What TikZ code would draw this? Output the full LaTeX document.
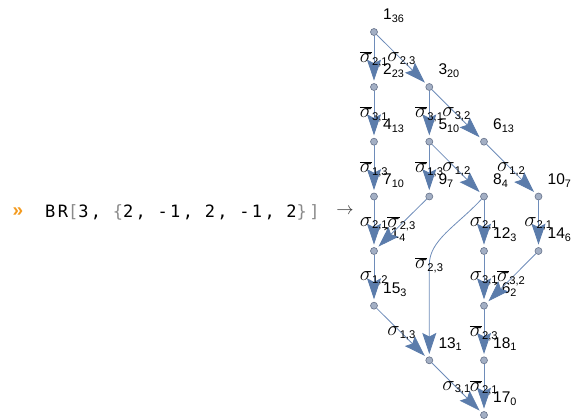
\documentclass[tikz,border=0pt]{standalone}
\usepackage{fontspec}
\setmainfont{Liberation Sans}
\newfontfamily\cmdfont[LetterSpace=14]{DejaVu Sans Mono}
\usetikzlibrary{arrows.meta}
\definecolor{cEdge}  {HTML}{6E8CB9}
\definecolor{cHead}  {HTML}{5B7CAB}
\definecolor{cVtx}   {HTML}{A3AFC4}
\definecolor{cVtxD}  {HTML}{66728A}
\definecolor{cPrompt}{HTML}{F39A1E}
\definecolor{cBrk}   {HTML}{8A8A8A}
\newcommand{\sg}[1]{{\fontsize{20}{20}\selectfont$\sigma$}\textsubscript{#1}}
\newcommand{\sgb}[1]{{\fontsize{20}{20}\selectfont$\overline{\sigma}$}\textsubscript{#1}}
\newcommand{\ws}{\hspace{11.7pt}}
\tikzset{
  vtx/.style ={circle,draw=cVtxD,fill=cVtx,line width=0.6pt,inner sep=0pt,
               minimum size=7pt},
  vlab/.style={anchor=base west,inner sep=0pt,font=\fontsize{15.5}{15.5}\selectfont},
  edg/.style ={draw=cEdge,line width=0.8pt,shorten >=2.5pt,
               -{Stealth[length=21pt,width=14pt,inset=3.5pt,color=cHead]}},
  elab/.style={inner sep=0pt,font=\fontsize{16}{16}\selectfont},
}

\begin{document}
\begin{tikzpicture}[x=1pt,y=-1pt,
  prompt/.style={text=cPrompt,inner sep=0pt,font=\fontsize{19}{19}\selectfont\bfseries},
  cmd/.style={anchor=west,inner sep=0pt,font=\fontsize{17}{17}\cmdfont},
]
\useasboundingbox (0,0) rectangle (574,419);

% ===== input line ========================================================
\node[prompt] (pr) at (18,212) {»};
\node[cmd] (cmd) at (45,212)
  {BR\textcolor{cBrk}{[}3,\ws\textcolor{cBrk}{\{}2,\ws-1,\ws2,\ws-1,\ws2\textcolor{cBrk}{\}]}};
\node[inner sep=0pt,text=black!80,font=\fontsize{17}{17}\selectfont] (to) at (345,211)
  {$\rightarrow$};

% ===== vertices ==========================================================
\foreach \n/\x/\y/\s in {1/374/32/36, 2/374/87/23, 3/429.3/87/20,
    4/374/141.7/13, 5/429.3/141.7/10, 6/484/141.7/13,
    7/374/196.5/10, 9/429.3/196.5/7, 8/484/196.5/4, 10/538.5/196.5/7,
    11/374/251/4, 12/484/251/3, 14/538.5/251/6,
    15/374/305.7/3, 16/484/305.7/2,
    13/429.3/360.3/1, 18/484/360.3/1, 17/484/415/0}{
  \node[vtx] (v\n) at (\x,\y) {};
  \node[vlab] (l\n) at ([shift={(9,-12)}]v\n) {\n\textsubscript{\s}};
}

% ===== edges =============================================================
\draw[edg] (v1)  -- node[elab]{\sgb{2,1}} (v2);
\draw[edg] (v1)  -- node[elab]{\sg{2,3}}  (v3);
\draw[edg] (v2)  -- node[elab]{\sgb{3,1}} (v4);
\draw[edg] (v3)  -- node[elab]{\sgb{3,1}} (v5);
\draw[edg] (v3)  -- node[elab]{\sg{3,2}}  (v6);
\draw[edg] (v4)  -- node[elab]{\sgb{1,3}} (v7);
\draw[edg] (v5)  -- node[elab]{\sgb{1,3}} (v9);
\draw[edg] (v5)  -- node[elab]{\sg{1,2}}  (v8);
\draw[edg] (v6)  -- node[elab]{\sg{1,2}}  (v10);
\draw[edg] (v7)  -- node[elab]{\sg{2,1}}  (v11);
\draw[edg] (v9)  -- node[elab]{\sgb{2,3}} (v11);
\draw[edg] (v8)  -- node[elab]{\sg{2,1}}  (v12);
\draw[edg] (v10) -- node[elab]{\sg{2,1}}  (v14);
% long edge 8 -> 13 bends into the middle column
\coordinate (k8) at (429.3,265);
\draw[edg] (v8) .. controls +(-28,30) and +(0,-25) .. (k8)
  node[elab]{\sgb{2,3}} -- (v13);
\draw[edg] (v11) -- node[elab]{\sg{1,2}}  (v15);
\draw[edg] (v12) -- node[elab]{\sg{3,1}}  (v16);
\draw[edg] (v14) -- node[elab]{\sgb{3,2}} (v16);
\draw[edg] (v15) -- node[elab]{\sg{1,3}}  (v13);
\draw[edg] (v16) -- node[elab]{\sgb{2,3}} (v18);
\draw[edg] (v13) -- node[elab]{\sg{3,1}}  (v17);
\draw[edg] (v18) -- node[elab]{\sgb{2,1}} (v17);
\end{tikzpicture}
\end{document}
